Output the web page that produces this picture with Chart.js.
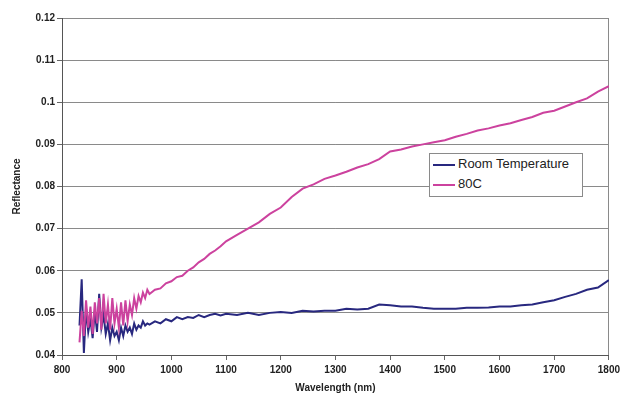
<!DOCTYPE html>
<html lang="en">
<head>
    <meta charset="UTF-8">
    <title>Reflectance</title>
    <style>
        body { margin: 0; background: #fff; }
        #wrap { position: relative; width: 624px; height: 408px; }
        #legend {
            position: absolute; left: 429px; top: 153px; width: 152px; height: 42px;
            background: #fff; border: 1px solid #8a8a8a;
            font: 13px "Liberation Sans", Arial, sans-serif; color: #222;
        }
        #legend div { height: 20px; line-height: 20px; white-space: nowrap; }
        #legend span.sw { display: inline-block; width: 22px; height: 2px; vertical-align: middle; margin: 0 3px 0 3px; }
    </style>
</head>
<body>
<div id="wrap">
    <canvas id="myChart" width="624" height="408"></canvas>
    <div id="legend">
        <div><span class="sw" style="background:#28287f"></span>Room Temperature</div>
        <div><span class="sw" style="background:#cc429e"></span>80C</div>
    </div>
</div>

<script src="https://cdn.jsdelivr.net/npm/chart.js"></script>
<script>
    // wavelength (nm)
    const wavelengths = [
        832, 836, 840, 844, 848, 852, 856, 860, 864, 868, 872, 876, 880, 884, 888, 892, 896,
        900, 904, 908, 912, 916, 920, 924, 928, 932, 936, 940, 944, 948, 952, 956, 960,
        970, 980, 990, 1000, 1010, 1020, 1030, 1040, 1050, 1060, 1070, 1080, 1090, 1100,
        1120, 1140, 1160, 1180, 1200, 1220, 1240, 1260, 1280, 1300, 1320, 1340, 1360, 1380,
        1400, 1420, 1440, 1460, 1480, 1500, 1520, 1540, 1560, 1580, 1600, 1620, 1640, 1660,
        1680, 1700, 1720, 1740, 1760, 1780, 1800
    ];
    const roomTemp = [
        0.047, 0.058, 0.0405, 0.051, 0.0455, 0.0485, 0.044, 0.0505, 0.0455, 0.0545, 0.0465, 0.0495, 0.045, 0.0475, 0.0435, 0.0465, 0.0445,
        0.0455, 0.0435, 0.0465, 0.0445, 0.047, 0.0455, 0.0465, 0.045, 0.0475, 0.046, 0.047, 0.0465, 0.048, 0.047, 0.0475, 0.0472,
        0.048, 0.0475, 0.0485, 0.048, 0.049, 0.0485, 0.049, 0.0488, 0.0495, 0.049, 0.0495, 0.0498, 0.0494, 0.0498,
        0.0495, 0.050, 0.0495, 0.050, 0.0502, 0.050, 0.0505, 0.0503, 0.0505, 0.0505, 0.051, 0.0508, 0.051, 0.052,
        0.0518, 0.0515, 0.0515, 0.0512, 0.051, 0.051, 0.051, 0.0512, 0.0512, 0.0513, 0.0515, 0.0515, 0.0518, 0.052,
        0.0525, 0.053, 0.0538, 0.0545, 0.0555, 0.056, 0.0578
    ];
    const hot80C = [
        0.043, 0.0505, 0.0445, 0.053, 0.0465, 0.0515, 0.045, 0.0525, 0.0475, 0.0535, 0.046, 0.0545, 0.0475, 0.052, 0.046, 0.0535, 0.0475,
        0.051, 0.0465, 0.0525, 0.047, 0.053, 0.048, 0.052, 0.0495, 0.0535, 0.051, 0.054, 0.0525, 0.0548, 0.0535, 0.0555, 0.0545,
        0.0555, 0.0558, 0.057, 0.0575, 0.0585, 0.0588, 0.060, 0.0608, 0.062, 0.0628, 0.064, 0.0648, 0.0658, 0.067,
        0.0685, 0.070, 0.0715, 0.0735, 0.075, 0.0775, 0.0795, 0.0805, 0.0818, 0.0826, 0.0835, 0.0845, 0.0853, 0.0865,
        0.0883, 0.0888, 0.0895, 0.090, 0.0905, 0.091, 0.0918, 0.0925, 0.0933, 0.0938, 0.0945, 0.095, 0.0958, 0.0965,
        0.0975, 0.098, 0.099, 0.100, 0.1009, 0.1025, 0.1038
    ];
    const xTicks = [800, 900, 1000, 1100, 1200, 1300, 1400, 1500, 1600, 1700, 1800];
    const yTicks = [0.04, 0.05, 0.06, 0.07, 0.08, 0.09, 0.1, 0.11, 0.12];

    const pts = arr => arr.map((v, i) => ({ x: wavelengths[i], y: v }));
    const tickFont = { family: 'Liberation Sans', size: 10, weight: 'bold' };

    const ctx = document.getElementById('myChart').getContext('2d');
    const chart = new Chart(ctx, {
        type: 'line',
        data: {
            datasets: [{
                label: 'Room Temperature',
                data: pts(roomTemp),
                borderColor: '#28287f',
                borderWidth: 2,
                order: 2
            }, {
                label: '80C',
                data: pts(hot80C),
                borderColor: '#cc429e',
                borderWidth: 2,
                order: 1
            }]
        },
        options: {
            responsive: false,
            animation: false,
            elements: { point: { radius: 0 }, line: { tension: 0 } },
            layout: { padding: { top: 18, right: 12, bottom: 14, left: 6 } },
            plugins: { legend: { display: false }, tooltip: { enabled: false } },
            scales: {
                x: {
                    type: 'linear', min: 800, max: 1800,
                    afterBuildTicks: s => { s.ticks = xTicks.map(v => ({ value: v })); },
                    ticks: { font: tickFont, color: '#222', padding: 4, maxRotation: 0, callback: v => String(v) },
                    grid: {
                        color: c => c.tick && c.tick.value === 1800 ? '#8a8a8a' : 'rgba(0,0,0,0)',
                        tickColor: '#666', tickLength: 5
                    },
                    border: { color: '#555' },
                    title: { display: true, text: 'Wavelength (nm)', font: tickFont, color: '#222', padding: 0 },
                    afterFit: s => { s.height = 39; }
                },
                y: {
                    min: 0.04, max: 0.12,
                    afterBuildTicks: s => { s.ticks = yTicks.map(v => ({ value: v })); },
                    ticks: { font: tickFont, color: '#222', padding: 2, callback: v => String(+v.toFixed(2)) },
                    grid: { color: '#8a8a8a', tickColor: '#666', tickLength: 5 },
                    border: { color: '#555' },
                    title: { display: true, text: 'Reflectance', font: tickFont, color: '#222', padding: { top: 5, bottom: 0 } },
                    afterFit: s => { s.width = 56; }
                }
            }
        }
    });
</script>
</body>
</html>
